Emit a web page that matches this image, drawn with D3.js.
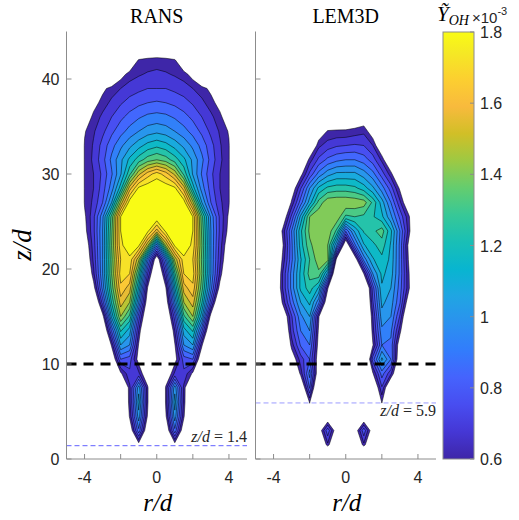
<!DOCTYPE html>
<html>
<head>
<meta charset="utf-8">
<script src="https://cdn.jsdelivr.net/npm/d3@7"></script>
<style>
  body { margin: 0; background: #fff; }
  svg { display: block; }
</style>
</head>
<body>
<script>
// mean OH mass fraction, in units of 1e-5 (60 = 0.6e-3)
// rows: z/d = 0, 1.5, 3, ... 45
var zStep = 1.5, rStep = 0.5;

// RANS is axisymmetric: columns r/d = 0, 0.5, ... 4.5
var ransHalf = [
  [0,0,0,0,0,0,0,0,0,0],
  [0,20,55,20,0,0,0,0,0,0],
  [0,45,90,48,0,0,0,0,0,0],
  [0,58,105,62,15,0,0,0,0,0],
  [0,62,112,66,20,0,0,0,0,0],
  [5,62,105,66,25,0,0,0,0,0],
  [0,45,70,74,58,20,0,0,0,0],
  [0,15,55,80,84,45,10,0,0,0],
  [0,20,59,100,108,62,20,0,0,0],
  [0,25,68,112,125,85,38,0,0,0],
  [0,40,80,130,148,110,55,15,0,0],
  [10,50,100,148,160,125,80,35,0,0],
  [20,59,115,160,170,135,95,55,20,0],
  [35,75,130,172,176,140,100,66,35,0],
  [48,95,150,178,172,138,100,70,45,10],
  [95,150,182,186,178,140,100,72,50,15],
  [160,182,190,188,180,138,100,74,56,20],
  [188,190,190,188,180,135,98,74,58,25],
  [190,190,188,185,150,108,84,70,61,28],
  [188,186,182,160,120,96,80,68,61,28],
  [176,168,154,130,107,91,78,68,61,30],
  [140,136,128,118,106,94,81,70,61,30],
  [122,119,113,106,98,89,79,69,61,30],
  [106,104,100,95,89,82,74,67,59,30],
  [95,94,91,87,82,76,70,63,50,20],
  [85,84,82,79,75,70,64,55,25,0],
  [76,76,74,72,68,64,57,30,0,0],
  [70,69,67,64,55,35,15,0,0,0],
  [64,63,61,45,30,10,0,0,0,0],
  [40,38,30,15,0,0,0,0,0,0],
  [0,0,0,0,0,0,0,0,0,0]
];

// LEM3D: columns r/d = -4.5, -4, ... 4.5
var lemRows = [
  [0,0,0,0,0,0,0,0,0,0,0,0,0,0,0,0,0,0,0],
  [0,0,0,0,0,0,30,66,30,0,30,66,30,0,0,0,0,0,0],
  [0,0,0,0,0,0,50,82,50,0,50,82,50,0,0,0,0,0,0],
  [0,0,0,0,20,50,20,45,15,0,15,45,20,48,20,0,0,0,0],
  [0,0,0,0,30,61,20,10,0,0,0,10,25,61,25,0,0,0,0],
  [0,0,0,0,40,85,30,0,0,0,0,0,40,75,38,0,0,0,0],
  [0,0,0,30,63,95,48,0,0,0,0,10,59,88,70,35,0,0,0],
  [0,0,10,50,72,84,52,0,0,0,0,25,80,110,92,45,0,0,0],
  [0,0,25,64,85,92,55,5,0,0,0,10,59,92,90,50,10,0,0],
  [0,0,35,72,92,100,58,10,0,0,0,15,65,98,94,64,25,0,0],
  [0,10,45,75,98,108,62,15,0,0,0,20,68,105,100,75,35,5,0],
  [0,25,62,88,108,118,95,45,0,0,0,25,75,110,104,85,50,15,0],
  [0,35,68,95,118,128,115,62,10,0,0,30,80,115,108,88,62,25,0],
  [0,30,68,95,118,135,138,105,30,0,20,60,100,118,112,90,61,20,0],
  [0,30,62,90,115,132,145,143,55,20,50,95,115,122,114,90,58,20,0],
  [0,30,58,90,120,138,146,140,100,45,90,115,122,128,115,90,56,20,0],
  [0,35,62,92,122,142,146,146,130,85,110,125,130,136,118,92,64,30,0],
  [0,20,48,78,110,140,146,146,146,130,132,130,125,118,102,82,62,30,0],
  [0,0,30,62,88,112,135,146,147,147,146,144,130,112,92,70,45,10,0],
  [0,0,20,50,75,100,118,126,128,128,126,120,110,96,80,58,25,0,0],
  [0,0,0,30,56,78,95,105,110,110,110,104,95,80,64,35,0,0,0],
  [0,0,0,0,35,64,78,86,90,92,92,88,80,66,40,10,0,0,0],
  [0,0,0,0,10,40,66,72,75,76,77,76,68,45,15,0,0,0,0],
  [0,0,0,0,0,20,50,61,62,62,64,66,52,20,0,0,0,0,0],
  [0,0,0,0,0,0,20,40,40,42,45,50,30,0,0,0,0,0,0],
  [0,0,0,0,0,0,0,0,0,0,0,0,0,0,0,0,0,0,0],
  [0,0,0,0,0,0,0,0,0,0,0,0,0,0,0,0,0,0,0],
  [0,0,0,0,0,0,0,0,0,0,0,0,0,0,0,0,0,0,0],
  [0,0,0,0,0,0,0,0,0,0,0,0,0,0,0,0,0,0,0],
  [0,0,0,0,0,0,0,0,0,0,0,0,0,0,0,0,0,0,0],
  [0,0,0,0,0,0,0,0,0,0,0,0,0,0,0,0,0,0,0]
];

var levels = [60,68,76,84,92,100,108,116,124,132,140,148,156,164,172,180];
var xTicks = [-4,-2,0,2,4];
var xLabels = [-4,0,4];
var yTicks = [0,10,20,30,40];
var cbTicks = [0.6,0.8,1,1.2,1.4,1.6,1.8];

// parula, stops at (index-1)/63 of the 64-colour map
var parula = [
  [0,"#3e26a8"],[4,"#4537d5"],[8,"#484df0"],[12,"#4563fd"],[16,"#327cfc"],
  [20,"#2b91ef"],[24,"#20a5e3"],[28,"#08b5d0"],[32,"#19bfb6"],[36,"#37c897"],
  [40,"#64cd6f"],[44,"#9dc943"],[48,"#d1bf27"],[52,"#f8ba3d"],[56,"#fccf30"],
  [60,"#f5e924"],[63,"#f9fb15"]
];

var color = d3.scaleLinear()
  .domain(parula.map(function(p) { return 60 + 120 * p[0] / 63; }))
  .range(parula.map(function(p) { return p[1]; }))
  .clamp(true);

var svg = d3.select("body").append("svg")
  .attr("width", 519).attr("height", 520);

var y = d3.scaleLinear().domain([0, 45]).range([459, 31.5]);
var axisCol = "#8c8c8c", textCol = "#262626";
var sans = "'Liberation Sans', Arial, sans-serif";
var serif = "'Liberation Serif', 'Times New Roman', serif";

var panels = [
  { title: "RANS", rows: ransHalf.map(function(h) { return h.slice(1).reverse().concat(h); }),
    x: d3.scaleLinear().domain([-5, 5]).range([66.5, 247]),
    ref: 1.4, refCol: "#6060ff", refDy: -4, yLabels: true },
  { title: "LEM3D", rows: lemRows,
    x: d3.scaleLinear().domain([-5, 5]).range([255.5, 436]),
    ref: 5.9, refCol: "#9c9cff", refDy: 13, yLabels: false }
];

panels.forEach(function(p) {
  var x = p.x;
  var g = svg.append("g");
  var nx = p.rows[0].length, ny = p.rows.length;
  var r0 = -(nx - 1) / 2 * rStep;
  var vals = [].concat.apply([], p.rows);
  var cs = d3.contours().size([nx, ny]).thresholds(levels)(vals);

  var proj = d3.geoTransform({
    point: function(px, py) {
      this.stream.point(x(r0 + (px - 0.5) * rStep), y((py - 0.5) * zStep));
    }
  });
  var path = d3.geoPath(proj);

  g.selectAll("path.band").data(cs).join("path")
    .attr("class", "band")
    .attr("d", path)
    .attr("fill", function(d) { return color(d.value); })
    .attr("fill-rule", "evenodd");

  g.selectAll("path.iso").data(cs).join("path")
    .attr("class", "iso")
    .attr("d", path)
    .attr("fill", "none")
    .attr("stroke", "#000")
    .attr("stroke-opacity", 0.85)
    .attr("stroke-width", 0.6);

  // z/d = 10 line
  svg.append("line")
    .attr("x1", x(-5)).attr("x2", x(5))
    .attr("y1", y(10)).attr("y2", y(10))
    .attr("stroke", "#000").attr("stroke-width", 3)
    .attr("stroke-dasharray", "10,7");

  // lift-off height
  svg.append("line")
    .attr("x1", x(-5)).attr("x2", x(5))
    .attr("y1", y(p.ref)).attr("y2", y(p.ref))
    .attr("stroke", p.refCol).attr("stroke-width", 1)
    .attr("stroke-dasharray", "5,3");

  var lab = svg.append("text")
    .attr("x", x(5)).attr("y", y(p.ref) + p.refDy)
    .attr("text-anchor", "end")
    .attr("font-family", serif).attr("font-size", 16)
    .attr("fill", textCol);
  lab.append("tspan").attr("font-style", "italic").text("z/d");
  lab.append("tspan").text(" = " + p.ref);

  // axes (box off)
  var ax = svg.append("g").attr("stroke", axisCol).attr("stroke-width", 1);
  ax.append("line").attr("x1", x(-5)).attr("x2", x(-5)).attr("y1", y(0)).attr("y2", y(45));
  ax.append("line").attr("x1", x(-5)).attr("x2", x(5)).attr("y1", y(0)).attr("y2", y(0));
  yTicks.forEach(function(t) {
    ax.append("line").attr("x1", x(-5)).attr("x2", x(-5) + 5).attr("y1", y(t)).attr("y2", y(t));
  });
  xTicks.forEach(function(t) {
    ax.append("line").attr("x1", x(t)).attr("x2", x(t)).attr("y1", y(0)).attr("y2", y(0) - 5);
  });

  if (p.yLabels) {
    yTicks.forEach(function(t) {
      svg.append("text")
        .attr("x", x(-5) - 7).attr("y", y(t) + 6)
        .attr("text-anchor", "end")
        .attr("font-family", sans).attr("font-size", 16).attr("fill", textCol)
        .text(t);
    });
  }
  xLabels.forEach(function(t) {
    svg.append("text")
      .attr("x", x(t)).attr("y", 483)
      .attr("text-anchor", "middle")
      .attr("font-family", sans).attr("font-size", 16).attr("fill", textCol)
      .text(t);
  });

  svg.append("text")
    .attr("x", x(0)).attr("y", 23)
    .attr("text-anchor", "middle")
    .attr("font-family", serif).attr("font-size", 20).attr("fill", "#000")
    .text(p.title);

  svg.append("text")
    .attr("x", x(0) + 1).attr("y", 511)
    .attr("text-anchor", "middle")
    .attr("font-family", serif).attr("font-style", "italic")
    .attr("font-size", 25).attr("fill", "#000")
    .text("r/d");
});

svg.append("text")
  .attr("transform", "translate(31,245) rotate(-90)")
  .attr("text-anchor", "middle")
  .attr("font-family", serif).attr("font-style", "italic")
  .attr("font-size", 27).attr("fill", "#000")
  .text("z/d");

// colorbar
var cbX0 = 443, cbX1 = 474;
var cbY = d3.scaleLinear().domain([0.6, 1.8]).range([459, 32]);
var grad = svg.append("defs").append("linearGradient")
  .attr("id", "parula").attr("x1", 0).attr("y1", 1).attr("x2", 0).attr("y2", 0);
grad.selectAll("stop").data(parula).join("stop")
  .attr("offset", function(d) { return d[0] / 63; })
  .attr("stop-color", function(d) { return d[1]; });

svg.append("rect")
  .attr("x", cbX0).attr("y", cbY(1.8))
  .attr("width", cbX1 - cbX0).attr("height", cbY(0.6) - cbY(1.8))
  .attr("fill", "url(#parula)")
  .attr("stroke", axisCol).attr("stroke-width", 1);

cbTicks.forEach(function(t) {
  svg.append("line")
    .attr("x1", cbX1 - 4).attr("x2", cbX1)
    .attr("y1", cbY(t)).attr("y2", cbY(t))
    .attr("stroke", axisCol);
  svg.append("text")
    .attr("x", cbX1 + 6).attr("y", cbY(t) + 6)
    .attr("font-family", sans).attr("font-size", 16).attr("fill", textCol)
    .text(String(t));
});

var cbt = svg.append("text").attr("x", 437).attr("y", 21).attr("fill", "#000");
cbt.append("tspan").attr("font-family", serif).attr("font-style", "italic")
  .attr("font-size", 21).text("\u1EF8");
cbt.append("tspan").attr("font-family", serif).attr("font-style", "italic")
  .attr("font-size", 14).attr("dy", 4).text("OH");
cbt.append("tspan").attr("font-family", sans).attr("font-size", 15)
  .attr("dx", 3).attr("dy", -2).attr("fill", textCol).text("\u00D710");
cbt.append("tspan").attr("font-family", sans).attr("font-size", 11)
  .attr("dy", -8).attr("fill", textCol).text("-3");
</script>
</body>
</html>
